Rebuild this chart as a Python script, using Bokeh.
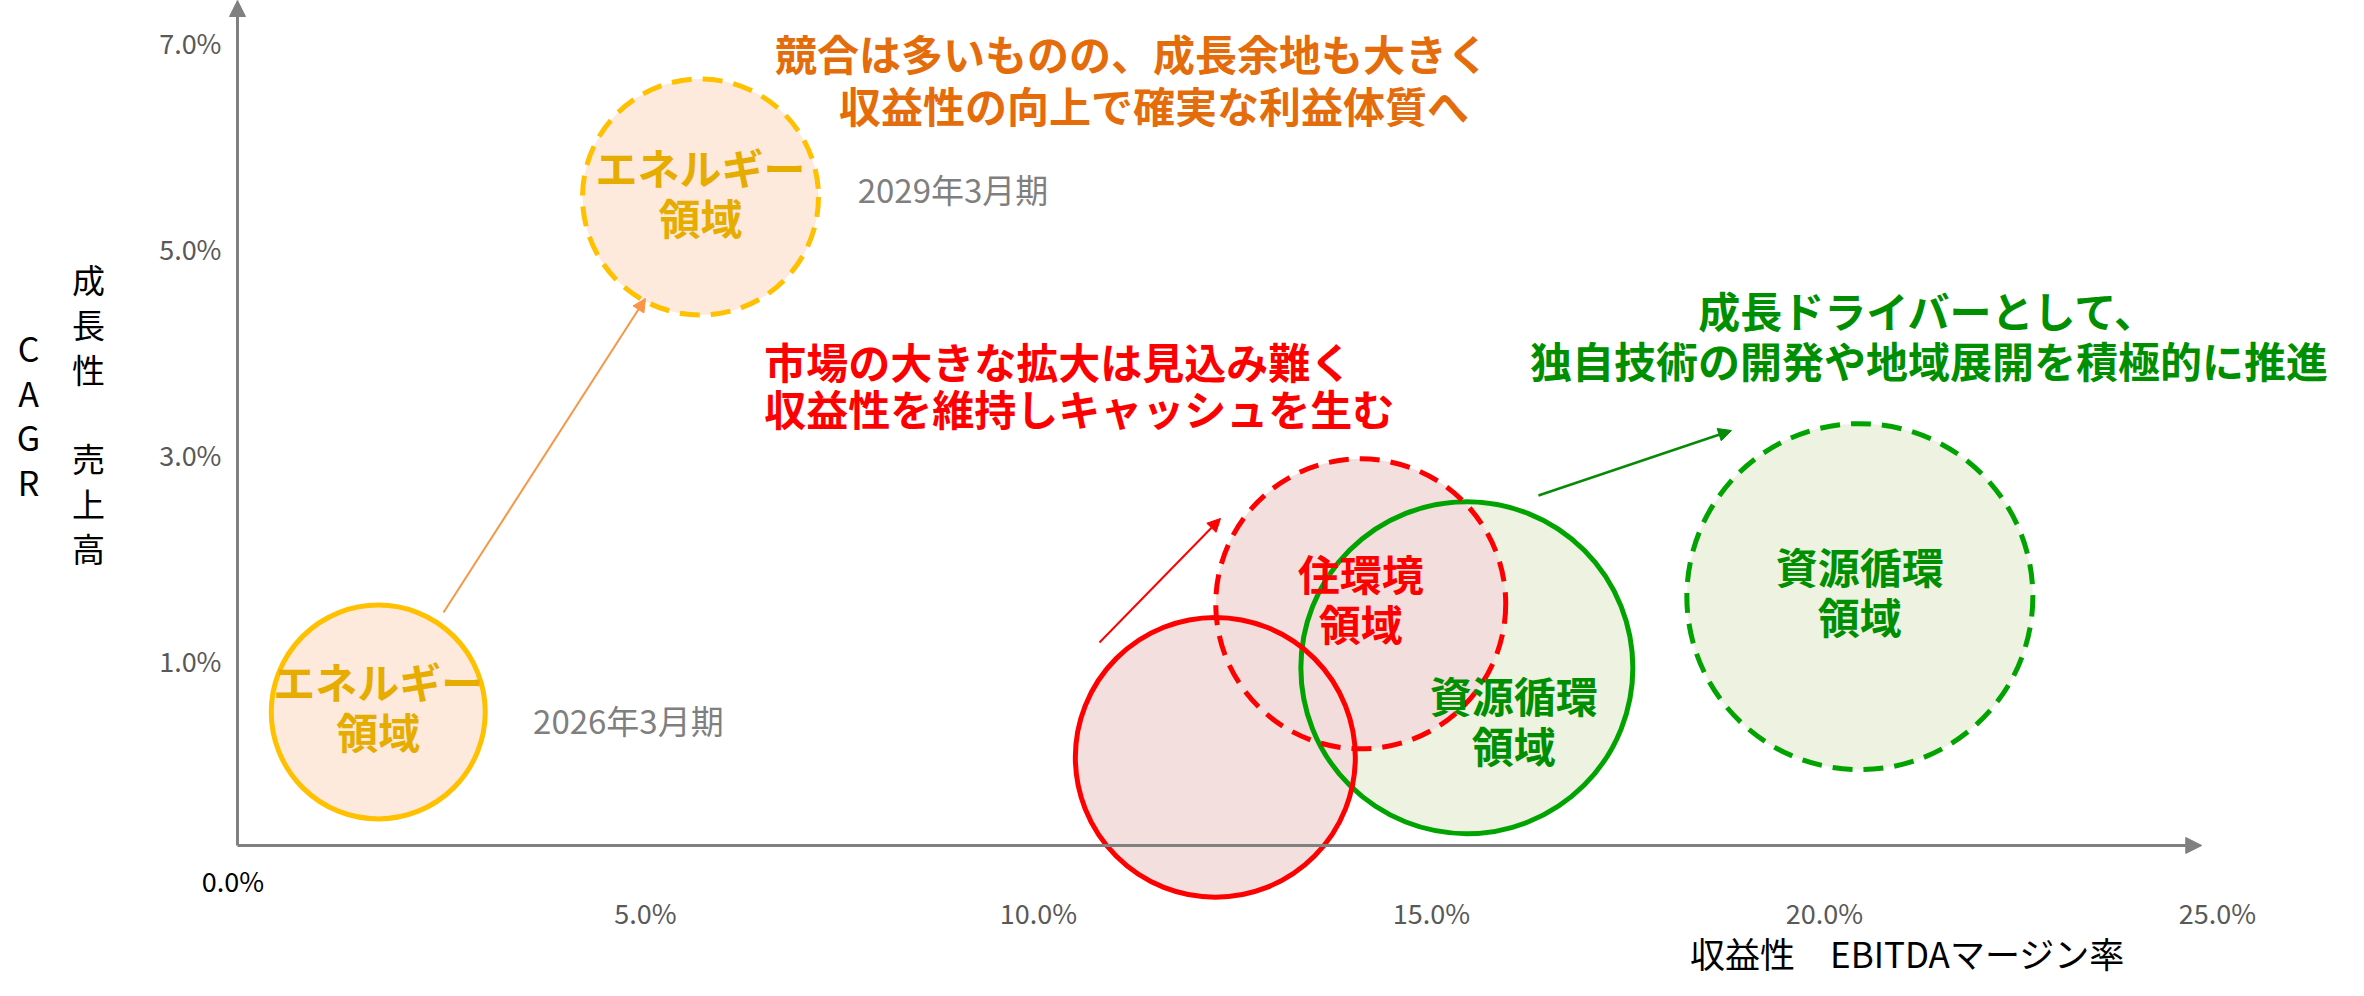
from bokeh.plotting import figure
from bokeh.models import (ColumnDataSource, Label, LabelSet, Arrow, NormalHead,
                          FixedTicker, PrintfTickFormatter, Range1d, CDSView, GroupFilter,
                          LinearAxis)
from bokeh.core.properties import value
from bokeh.embed import file_html
from bokeh.resources import INLINE

# ---------------- data ----------------
segment = ["エネルギー", "エネルギー", "資源循環", "資源循環", "住環境", "住環境"]
period = ["2026年3月期", "2029年3月期", "2026年3月期", "2029年3月期", "2026年3月期", "2029年3月期"]
ebitda_margin = [1.60, 5.70, 15.45, 20.45, 12.25, 14.10]   # x, %
sales_cagr = [0.50, 5.50, 0.93, 1.62, 0.06, 1.55]          # y, %
bubble_scale = [1.07, 1.18, 1.66, 1.73, 1.40, 1.45]        # relative bubble size
label_line1 = ["エネルギー", "エネルギー", "資源循環", "資源循環", "", "住環境"]
label_line2 = ["領域", "領域", "領域", "領域", "", "領域"]

x_ticks = [5, 10, 15, 20, 25]
y_ticks = [1, 3, 5, 7]

# ---------------- styles ----------------
PX_PER_SCALE = 200
fill_col = ["#fde8da", "#fde8da", "#ebf1de", "#ebf1de", "#f2dcdb", "#f2dcdb"]
line_col = ["#ffc000", "#ffc000", "#00a300", "#00a300", "#ff0000", "#ff0000"]
text_col = ["#e6ac00", "#e6ac00", "#008f00", "#008f00", "#ff0000", "#ff0000"]
lbl_dx = [0, 0, 47, 0, 0, 0]
lbl_dy1 = [31, 31, -27, 31, 31, 31]
lbl_dy2 = [-19, -19, -77, -19, -19, -19]

JP = "Noto Sans CJK JP"
X0, X1 = -3.206, 26.667
Y0, Y1 = -2.107, 7.408
AX_X0, AX_Y0 = -0.1908, -0.796
AX_XEND = 24.8

src = ColumnDataSource(dict(
    x=ebitda_margin, y=sales_cagr, seg=segment, period=period,
    size=[s * PX_PER_SCALE for s in bubble_scale],
    fill=fill_col, line=line_col,
))
keep = [i for i, t in enumerate(label_line1) if t]
lsrc = ColumnDataSource(dict(
    x=[ebitda_margin[i] for i in keep], y=[sales_cagr[i] for i in keep],
    l1=[label_line1[i] for i in keep], l2=[label_line2[i] for i in keep],
    tcol=[text_col[i] for i in keep], dx=[lbl_dx[i] for i in keep],
    dy1=[lbl_dy1[i] for i in keep], dy2=[lbl_dy2[i] for i in keep],
))

p = figure(width=2348, height=980, x_range=Range1d(X0, X1), y_range=Range1d(Y0, Y1),
           output_backend="svg", toolbar_location=None,
           x_axis_location=None, y_axis_location=None,
           min_border_left=0, min_border_right=0, min_border_top=0, min_border_bottom=0)
p.grid.visible = False
p.outline_line_color = None
p.background_fill_color = "white"

xax = LinearAxis(fixed_location=AX_Y0, ticker=FixedTicker(ticks=x_ticks),
                 formatter=PrintfTickFormatter(format="%.1f%%"), major_label_standoff=48)
yax = LinearAxis(fixed_location=AX_X0, ticker=FixedTicker(ticks=y_ticks),
                 formatter=PrintfTickFormatter(format="%.1f%%"), major_label_standoff=16)
for ax in (xax, yax):
    ax.axis_line_alpha = 0
    ax.major_tick_out = 0
    ax.major_tick_in = 0
    ax.minor_tick_out = 0
    ax.minor_tick_in = 0
    ax.major_label_text_color = "#595959"
    ax.major_label_text_font = JP
    ax.major_label_text_font_size = "27px"
p.add_layout(xax, "below")
p.add_layout(yax, "left")

# bubble fills
p.scatter("x", "y", size="size", source=src, fill_color="fill", fill_alpha=0.92, line_alpha=0)
# outlines
v26 = CDSView(filter=GroupFilter(column_name="period", group="2026年3月期"))
v29 = CDSView(filter=GroupFilter(column_name="period", group="2029年3月期"))
p.scatter("x", "y", size="size", source=src, view=v26, fill_alpha=0,
          line_color="line", line_width=5)
p.scatter("x", "y", size="size", source=src, view=v29, fill_alpha=0,
          line_color="line", line_width=5, line_dash="20 11")

# axes arrows
grey = "#808080"
p.add_layout(Arrow(x_start=AX_X0, y_start=AX_Y0, x_end=AX_X0, y_end=Y1,
                   line_color=grey, line_width=3,
                   end=NormalHead(size=16, fill_color=grey, line_color=grey)))
p.add_layout(Arrow(x_start=AX_X0, y_start=AX_Y0, x_end=AX_XEND, y_end=AX_Y0,
                   line_color=grey, line_width=3,
                   end=NormalHead(size=16, fill_color=grey, line_color=grey)))

# transition arrows
arrows = [
    ((2.43, 1.466), (5.00, 4.515), "#f79646", 2),
    ((10.776, 1.175), (12.316, 2.379), "#ff0000", 2),
    ((16.361, 2.602), (18.817, 3.233), "#078a07", 2.5),
]
for (xs, ys), (xe, ye), c, w in arrows:
    p.add_layout(Arrow(x_start=xs, y_start=ys, x_end=xe, y_end=ye, line_color=c, line_width=w,
                       end=NormalHead(size=13, fill_color=c, line_color=c)))

# bubble labels
for col, off in (("l1", "dy1"), ("l2", "dy2")):
    p.add_layout(LabelSet(x="x", y="y", text=col, source=lsrc, x_offset="dx", y_offset=off,
                          text_align="center", text_baseline="middle",
                          text_color="tcol", text_font=value(JP), text_font_style="bold",
                          text_font_size="42px"))

# notes
notes = [
    ("競合は多いものの、成長余地も大きく", 11.19, 6.903, "#e46c0a", "center"),
    ("収益性の向上で確実な利益体質へ", 11.47, 6.398, "#e46c0a", "center"),
    ("市場の大きな拡大は見込み難く", 6.51, 3.913, "#ff0000", "left"),
    ("収益性を維持しキャッシュを生む", 6.51, 3.456, "#ff0000", "left"),
    ("成長ドライバーとして、", 21.32, 4.408, "#008f00", "center"),
    ("独自技術の開発や地域展開を積極的に推進", 21.33, 3.922, "#008f00", "center"),
]
for t, x, y, c, a in notes:
    p.add_layout(Label(x=x, y=y, text=t, text_color=c, text_align=a, text_baseline="middle",
                       text_font=JP, text_font_style="bold", text_font_size="42px"))

for t, x, y in (("2029年3月期", 7.70, 5.573), ("2026年3月期", 3.57, 0.427)):
    p.add_layout(Label(x=x, y=y, text=t, text_color="#7f7f7f", text_align="left",
                       text_baseline="middle", text_font=JP, text_font_size="33px"))

p.add_layout(Label(x=-0.25, y=-1.136, text="0.0%", text_color="#000000", text_align="center",
                   text_baseline="middle", text_font=JP, text_font_size="27px"))
p.add_layout(Label(x=21.056, y=-1.835, text="収益性　EBITDAマージン率", text_color="#000000",
                   text_align="center", text_baseline="middle", text_font=JP,
                   text_font_size="35px"))
p.add_layout(Label(x=-2.85, y=3.388, text="C\nA\nG\nR", text_color="#000000",
                   text_align="center", text_baseline="middle", text_font=JP,
                   text_font_size="34px", text_line_height=0.908))
p.add_layout(Label(x=-2.086, y=3.398, text="成\n長\n性\n\u3000\n売\n上\n高", text_color="#000000",
                   text_align="center", text_baseline="middle", text_font=JP,
                   text_font_size="33px", text_line_height=0.933))

open("out.html", "w").write(file_html(p, INLINE))
